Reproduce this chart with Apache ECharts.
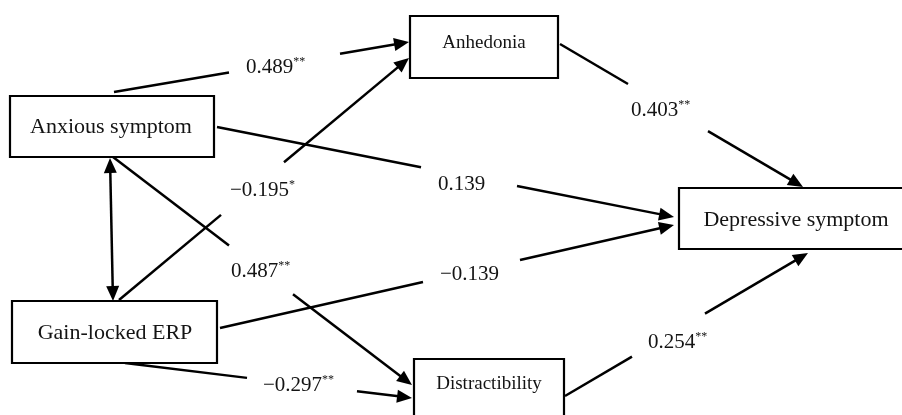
<!DOCTYPE html>
<html>
<head>
<meta charset="utf-8">
<script src="https://cdn.jsdelivr.net/npm/echarts@6/dist/echarts.min.js"></script>
<style>
  html, body { margin: 0; padding: 0; background: #ffffff; }
  #chart { width: 902px; height: 415px; }
</style>
</head>
<body>
<div id="chart"></div>
<script>
// Path model: observed variables and standardized path coefficients
const variables = ['Anxious symptom', 'Gain-locked ERP', 'Anhedonia', 'Distractibility', 'Depressive symptom'];
const pathFrom = ['Anxious symptom', 'Gain-locked ERP', 'Anxious symptom', 'Anxious symptom',
                  'Gain-locked ERP', 'Gain-locked ERP', 'Anhedonia', 'Distractibility'];
const pathTo = ['Anhedonia', 'Anhedonia', 'Depressive symptom', 'Distractibility',
                'Depressive symptom', 'Distractibility', 'Depressive symptom', 'Depressive symptom'];
const pathCoefficients = [0.489, -0.195, 0.139, 0.487, -0.139, -0.297, 0.403, 0.254];
const pathSignificance = ['**', '*', '', '**', '', '**', '**', '**'];
const covariancePair = ['Anxious symptom', 'Gain-locked ERP'];

// Layout in a 902 x 415 drawing space, y growing downward
const boxLayout = {
  'Anxious symptom':    { x0: 10,  y0: 96,  x1: 214, y1: 157, tx: 111, ty: 127, size: 22 },
  'Gain-locked ERP':    { x0: 12,  y0: 301, x1: 217, y1: 363, tx: 115, ty: 333, size: 22 },
  'Anhedonia':          { x0: 410, y0: 16,  x1: 558, y1: 78,  tx: 484, ty: 43,  size: 19 },
  'Distractibility':    { x0: 414, y0: 359, x1: 564, y1: 425, tx: 489, ty: 384, size: 19 },
  'Depressive symptom': { x0: 679, y0: 188, x1: 910, y1: 249, tx: 796, ty: 220, size: 22 }
};
// Each path: start point, arrow tip, the x-range left open for the label, label anchor (left, middle)
const pathLayout = [
  { p0: [114, 92],  p1: [409, 42],  gapX: [229, 340], label: [246, 67] },
  { p0: [119, 300], p1: [409, 58],  gapX: [221, 284], label: [230, 190] },
  { p0: [217, 127], p1: [674, 217], gapX: [421, 517], label: [438, 184] },
  { p0: [113, 157], p1: [412, 385], gapX: [229, 293], label: [231, 271] },
  { p0: [220, 328], p1: [674, 225], gapX: [423, 520], label: [440, 274] },
  { p0: [125, 363], p1: [412, 398], gapX: [247, 357], label: [263, 385] },
  { p0: [560, 44],  p1: [803, 187], gapX: [628, 708], label: [631, 110] },
  { p0: [565, 396], p1: [808, 253], gapX: [632, 705], label: [648, 342] }
];
const covarianceLayout = { p0: [110, 158], p1: [113, 301] };

const FONT = "'Liberation Serif', 'DejaVu Serif', serif";
const INK = '#000000';
const TEXT_INK = '#141414';
const ARROW_LEN = 15;
const ARROW_HALF = 6.5;
const EDGE_WIDTH = 2.5;

function formatCoef(v) {
  const s = Math.abs(v).toFixed(3);
  return v < 0 ? '\u2212' + s : s;
}

function arrowHead(tip, from) {
  const dx = tip[0] - from[0], dy = tip[1] - from[1];
  const len = Math.sqrt(dx * dx + dy * dy);
  const ux = dx / len, uy = dy / len;
  const bx = tip[0] - ux * ARROW_LEN, by = tip[1] - uy * ARROW_LEN;
  const nx = -uy, ny = ux;
  return {
    base: [bx + ux * 1.5, by + uy * 1.5],
    el: {
      type: 'polygon',
      shape: { points: [tip, [bx + nx * ARROW_HALF, by + ny * ARROW_HALF], [bx - nx * ARROW_HALF, by - ny * ARROW_HALF]] },
      style: { fill: INK }
    }
  };
}

function seg(a, b) {
  return { type: 'line', shape: { x1: a[0], y1: a[1], x2: b[0], y2: b[1] },
           style: { stroke: INK, lineWidth: EDGE_WIDTH, lineCap: 'butt' } };
}

const chart = echarts.init(document.getElementById('chart'), null, { renderer: 'canvas' });

const option = {
  backgroundColor: '#ffffff',
  animation: false,
  grid: { left: 0, right: 0, top: 0, bottom: 0 },
  xAxis: { type: 'value', min: 0, max: 902, show: false },
  yAxis: { type: 'value', min: 0, max: 415, inverse: true, show: false },
  series: [
    {
      // directed paths with coefficient labels
      type: 'custom',
      name: 'paths',
      coordinateSystem: 'cartesian2d',
      silent: true,
      clip: false,
      data: pathCoefficients.map((c, i) => [i, c]),
      renderItem: function (params, api) {
        const i = api.value(0);
        const coef = api.value(1);
        const lay = pathLayout[i];
        const p0 = api.coord(lay.p0);
        const p1 = api.coord(lay.p1);
        const head = arrowHead(p1, p0);
        const span = lay.p1[0] - lay.p0[0];
        const t0 = (lay.gapX[0] - lay.p0[0]) / span;
        const t1 = (lay.gapX[1] - lay.p0[0]) / span;
        const g0 = [p0[0] + (p1[0] - p0[0]) * t0, p0[1] + (p1[1] - p0[1]) * t0];
        const g1 = [p0[0] + (p1[0] - p0[0]) * t1, p0[1] + (p1[1] - p0[1]) * t1];
        const lp = api.coord(lay.label);
        const stars = pathSignificance[i];
        const txt = '{v|' + formatCoef(coef) + '}' + (stars ? '{s|' + stars + '}' : '');
        return {
          type: 'group',
          children: [
            seg(p0, g0),
            seg(g1, head.base),
            head.el,
            {
              type: 'text',
              style: {
                x: lp[0], y: lp[1], text: txt,
                align: 'left', verticalAlign: 'middle',
                fill: TEXT_INK,
                rich: {
                  v: { fontFamily: FONT, fontSize: 21, lineHeight: 22, fill: TEXT_INK },
                  s: { fontFamily: FONT, fontSize: 12, lineHeight: 12, verticalAlign: 'top', fill: TEXT_INK }
                }
              }
            }
          ]
        };
      }
    },
    {
      // covariance between the two predictors (double-headed)
      type: 'custom',
      name: 'covariance',
      coordinateSystem: 'cartesian2d',
      silent: true,
      clip: false,
      data: [[variables.indexOf(covariancePair[0]), variables.indexOf(covariancePair[1])]],
      renderItem: function (params, api) {
        const a = api.coord(covarianceLayout.p0);
        const b = api.coord(covarianceLayout.p1);
        const h1 = arrowHead(a, b);
        const h2 = arrowHead(b, a);
        return { type: 'group', children: [seg(h1.base, h2.base), h1.el, h2.el] };
      }
    },
    {
      // variable boxes
      type: 'custom',
      name: 'variables',
      coordinateSystem: 'cartesian2d',
      silent: true,
      clip: false,
      z: 3,
      data: variables.map((v, i) => [i]),
      renderItem: function (params, api) {
        const name = variables[api.value(0)];
        const b = boxLayout[name];
        const tl = api.coord([b.x0, b.y0]);
        const br = api.coord([b.x1, b.y1]);
        const tc = api.coord([b.tx, b.ty]);
        return {
          type: 'group',
          children: [
            {
              type: 'rect',
              shape: { x: tl[0], y: tl[1], width: br[0] - tl[0], height: br[1] - tl[1] },
              style: { fill: '#ffffff', stroke: INK, lineWidth: 2.2 }
            },
            {
              type: 'text',
              style: {
                x: tc[0], y: tc[1], text: name,
                align: 'center', verticalAlign: 'middle',
                fontFamily: FONT, fontSize: b.size, fill: TEXT_INK
              }
            }
          ]
        };
      }
    }
  ]
};

chart.setOption(option);
</script>
</body>
</html>
